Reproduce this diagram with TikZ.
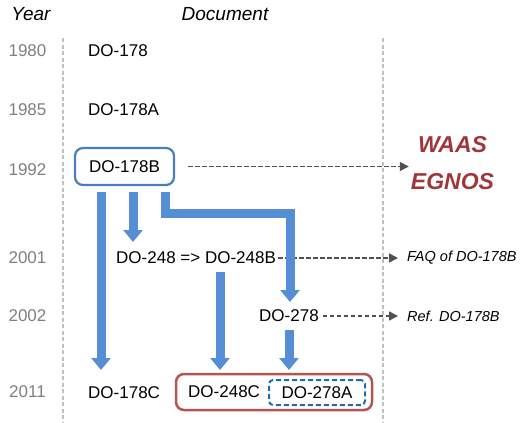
\documentclass[tikz,border=0pt]{standalone}
\usepackage{fontspec}
\setmainfont{Liberation Sans}
\usetikzlibrary{arrows.meta}
\definecolor{arrblue}{HTML}{558ED5}
\definecolor{boxblue}{HTML}{4A7EBB}
\definecolor{boxred}{HTML}{B65550}
\definecolor{dashblue}{HTML}{1F6BB0}
\definecolor{waascol}{HTML}{A0363A}
\definecolor{yeargray}{HTML}{7F7F7F}
\definecolor{linegray}{HTML}{C0C0C0}
\definecolor{dgray}{HTML}{505050}
\begin{document}
\begin{tikzpicture}[x=1pt,y=-1pt,
  hdr/.style={inner sep=0pt, font=\fontsize{19}{22}\selectfont\itshape},
  yr/.style={inner sep=0pt, text=yeargray, font=\fontsize{17}{20}\selectfont},
  doc/.style={anchor=west, inner sep=0pt, font=\fontsize{17}{20}\selectfont},
  note/.style={anchor=west, inner sep=0pt, font=\fontsize{14.5}{17}\selectfont\itshape},
  sat/.style={inner sep=0pt, text=waascol, font=\fontsize{23}{26}\selectfont\bfseries\itshape},
  vline/.style={draw=linegray, line width=1.3pt, dash pattern=on 4pt off 2.5pt},
  bigarrow/.style={draw=arrblue, line width=9pt, line join=miter, -{Triangle[width=19pt,length=12pt]}},
  refarrow/.style={draw=dgray, line width=1.6pt, dash pattern=on 4.5pt off 2.5pt, -{Triangle[width=9pt,length=9pt]}},
  bluebox/.style={draw=boxblue, line width=2.2pt, rounded corners=8pt, minimum width=99pt, minimum height=37pt, inner sep=0pt, font=\fontsize{17}{20}\selectfont},
  redbox/.style={draw=boxred, line width=2.5pt, rounded corners=8pt, minimum width=196pt, minimum height=36pt, inner sep=0pt},
  dashbox/.style={draw=dashblue, line width=2pt, dash pattern=on 5pt off 3pt, rounded corners=4pt, minimum width=96pt, minimum height=25pt, inner sep=0pt, font=\fontsize{17}{20}\selectfont}
]
\useasboundingbox (0,0) rectangle (525,423);
% guide lines
\draw[vline] (63,38) -- (63,423);
\draw[vline] (383,38) -- (383,423);
% headers
\node[hdr] (hyear) at (31,14) {Year};
\node[hdr] (hdoc) at (225,14) {Document};
% years
\node[yr] (y1980) at (27.5,51) {1980};
\node[yr] (y1985) at (27.5,110) {1985};
\node[yr] (y1992) at (27.5,170) {1992};
\node[yr] (y2001) at (27.5,258) {2001};
\node[yr] (y2002) at (27.5,316) {2002};
\node[yr] (y2011) at (27.5,392) {2011};
% documents
\node[doc] (d178) at (88,51) {DO-178};
\node[doc] (d178a) at (88,110) {DO-178A};
\node[bluebox] (d178b) at (124.5,166.5) {DO-178B};
\node[doc] (d248) at (116,258) {DO-248 => DO-248B};
\node[doc] (d278) at (259,316) {DO-278};
\node[doc] (d178c) at (88,393) {DO-178C};
\node[redbox] (grp) at (274,392) {};
\node[doc] (d248c) at (188,392) {DO-248C};
\node[dashbox] (d278a) at (317,392.5) {DO-278A};
% side notes
\node[sat] (waas) at (452.5,145) {WAAS};
\node[sat] (egnos) at (452.5,182) {EGNOS};
\node[note] (faq) at (407,258) {FAQ of DO-178B};
\node[note] (ref) at (407,316) {Ref. DO-178B};
% reference arrows
\draw[refarrow] ([xshift=13pt]d178b.east) -- ([xshift=-9pt]waas.west |- d178b.east);
\draw[refarrow] ([xshift=2pt]d248.east) -- ([xshift=-9pt]faq.west);
\draw[refarrow] ([xshift=4pt]d278.east) -- ([xshift=-9pt]ref.west);
% blue arrows
\coordinate (s1) at (101,192);
\coordinate (s2) at (133,192);
\coordinate (s3) at (165,192);
\coordinate (e1) at (101,370);
\coordinate (e2) at (133,242);
\coordinate (k1) at (165,213);
\coordinate (k2) at (290,213);
\coordinate (e3) at (290,302);
\coordinate (s4) at (220,272);
\coordinate (e4) at (220,370);
\coordinate (s5) at (289,330);
\coordinate (e5) at (289,370);
\draw[bigarrow] (s1) -- (e1);
\draw[bigarrow] (s2) -- (e2);
\draw[bigarrow] (s3) -- (k1) -- (k2) -- (e3);
\draw[bigarrow] (s4) -- (e4);
\draw[bigarrow] (s5) -- (e5);
\end{tikzpicture}
\end{document}
